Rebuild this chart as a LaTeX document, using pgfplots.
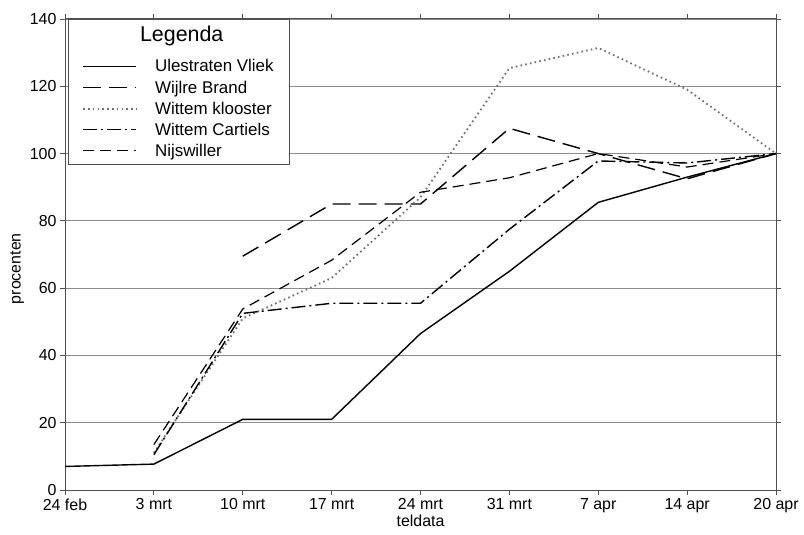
\documentclass[border=0pt]{standalone}
\usepackage{fontspec}
\setmainfont{Liberation Sans}
\usepackage{pgfplots}
\pgfplotsset{compat=1.18}
\usetikzlibrary{calc}
\definecolor{axgray}{RGB}{80,80,80}
\definecolor{gridgray}{RGB}{140,140,140}
\definecolor{dotgray}{RGB}{110,110,110}
\begin{document}
\begin{tikzpicture}
\begin{axis}[
  name=ax,
  scale only axis,
  width=711bp, height=471bp,
  xmin=0, xmax=8, ymin=0, ymax=140,
  xtick={0,1,2,3,4,5,6,7,8},
  xticklabels={24 feb,3 mrt,10 mrt,17 mrt,24 mrt,31 mrt,7 apr,14 apr,20 apr},
  ytick={0,20,40,60,80,100,120,140},
  /pgf/number format/assume math mode=true,
  tick label style={font=\fontsize{16}{18}\selectfont, black},
  tick align=outside,
  major tick length=5bp,
  tick style={axgray, line width=0.8bp},
  axis line style={axgray, line width=1bp},
  ymajorgrids,
  grid style={gridgray, line width=0.9bp},
  xlabel={teldata},
  ylabel={procenten},
  xlabel style={font=\fontsize{16}{18}\selectfont, at={(axis description cs:0.5,-0.066)}, anchor=center},
  ylabel style={font=\fontsize{16}{18}\selectfont, at={(axis description cs:-0.0675,0.47)}, anchor=center},
  legend image code/.code={\draw[#1] (0bp,0bp) -- (53bp,0bp);},
  legend cell align=left,
  legend style={at={(rel axis cs:0.004,1)}, anchor=north west, draw=axgray, line width=0.8bp,
     font=\fontsize{17}{19}\selectfont, row sep=3.3bp, inner xsep=14bp, inner ysep=5bp,
     /tikz/every odd column/.append style={column sep=16bp}},
]
\addlegendimage{empty legend}
\addlegendentry{\hspace*{-15bp}\fontsize{21.5}{23}\selectfont\raisebox{9bp}{Legenda}}

\addplot[black, line width=1.4bp] coordinates {
(0,7) (1,7.7) (2,21) (3,21) (4,46.5) (5,65) (6,85.5) (7,93) (8,100)};
\addlegendentry{Ulestraten Vliek}

\addplot[black, line width=1.4bp, dash pattern=on 18bp off 8bp] coordinates {
(2,69.5) (3,85) (4,85) (5,107.5) (6,100) (7,92.5) (8,100)};
\addlegendentry{Wijlre Brand}

\addplot[dotgray, line width=1.8bp, dash pattern=on 1.6bp off 3.2bp] coordinates {
(1,11) (2,51) (3,63) (4,87) (5,125.4) (6,131.4) (7,119) (8,100)};
\addlegendentry{Wittem klooster}

\addplot[black, line width=1.4bp, dash pattern=on 14bp off 4bp on 2bp off 4bp] coordinates {
(1,10.5) (2,52.5) (3,55.5) (4,55.5) (5,77.5) (6,97.8) (7,97.2) (8,100)};
\addlegendentry{Wittem Cartiels}

\addplot[black, line width=1.2bp, dash pattern=on 11bp off 6bp] coordinates {
(1,13.5) (2,53.8) (3,68.3) (4,88.5) (5,92.8) (6,100) (7,96) (8,100)};
\addlegendentry{Nijswiller}
\end{axis}
\pgfresetboundingbox
\path[use as bounding box] ($(ax.south west)+(-65bp,-44bp)$) rectangle ($(ax.north east)+(28bp,19bp)$);
\end{tikzpicture}
\end{document}
